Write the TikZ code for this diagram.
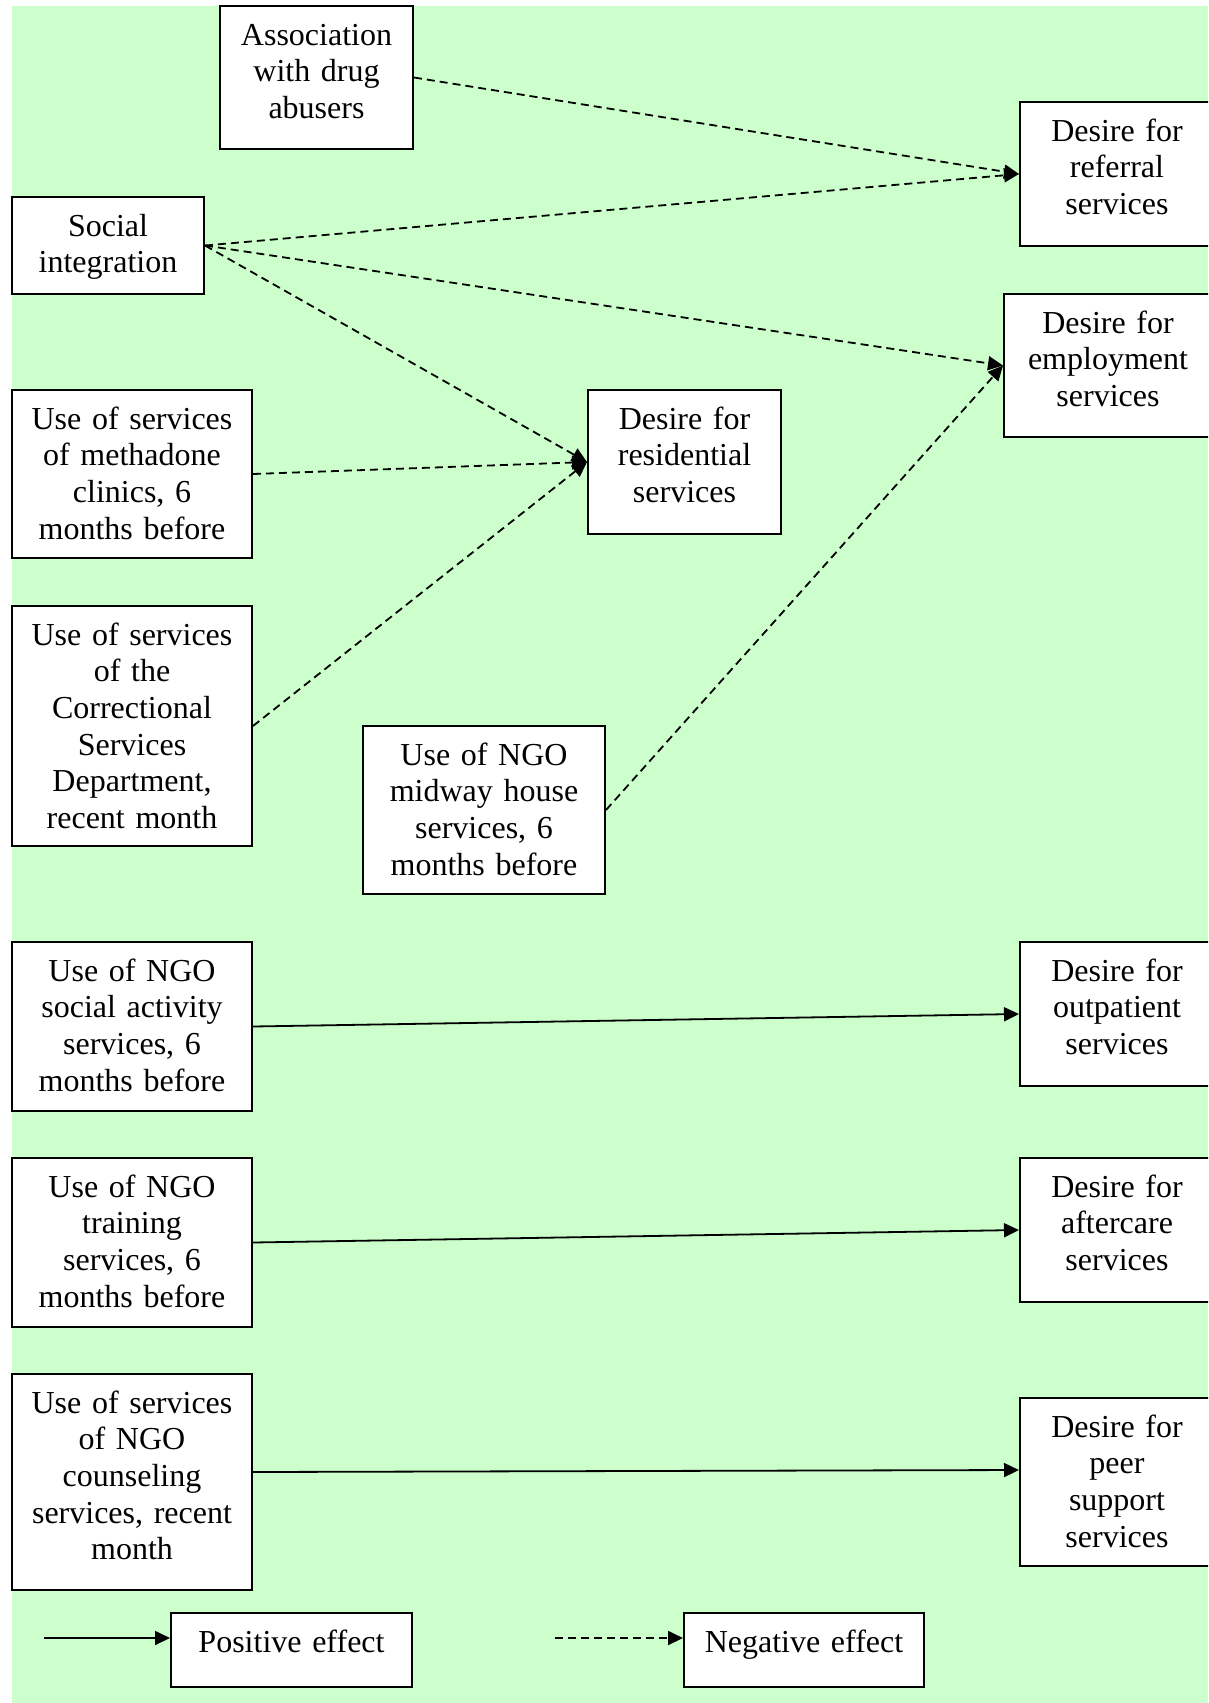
\documentclass[tikz,border=0pt]{standalone}
\usepackage{fontspec}
\setmainfont{Liberation Serif}
\usetikzlibrary{arrows.meta,calc}
\definecolor{bg}{RGB}{204,255,204}
\tikzset{
  box/.style={draw, line width=2pt, fill=white, inner sep=0pt, align=center,
    text height=39pt, font=\fontsize{32pt}{36.7pt}\selectfont},
  posarrow/.style={line width=1.8pt, -{Triangle[length=15pt,width=14pt]}},
  negarrow/.style={line width=1.8pt, dash pattern=on 8pt off 5pt, -{Triangle[length=15pt,width=14pt]}}
}
\begin{document}
\begin{tikzpicture}[x=1pt,y=-1pt]
\useasboundingbox (0,0) rectangle (1208,1703);
\clip (0,0) rectangle (1208,1703);
\fill[white] (0,0) rectangle (1208,1703);
\fill[bg] (12,6) rectangle (1208,1703);

% left / source boxes
\node[box, text width=193pt, text depth=104pt] (assoc) at (316.5,77.5) {Association\\with drug\\abusers};
\node[box, text width=192pt, text depth=58pt] (social) at (108,245.5) {Social\\integration};
\node[box, text width=240pt, text depth=129pt] (methadone) at (132,474) {Use of services\\of methadone\\clinics, 6\\months before};
\node[box, text width=240pt, text depth=201pt] (correctional) at (132,726) {Use of services\\of the\\Correctional\\Services\\Department,\\recent month};
\node[box, text width=242pt, text depth=129pt] (midway) at (484,810) {Use of NGO\\midway house\\services, 6\\months before};
\node[box, text width=240pt, text depth=130pt] (socact) at (132,1026.5) {Use of NGO\\social activity\\services, 6\\months before};
\node[box, text width=240pt, text depth=130pt] (training) at (132,1242.5) {Use of NGO\\training\\services, 6\\months before};
\node[box, text width=240pt, text depth=177pt] (counsel) at (132,1482) {Use of services\\of NGO\\counseling\\services, recent\\month};

% target boxes
\node[box, text width=194pt, text depth=105pt] (referral) at (1117,174) {Desire for\\referral\\services};
\node[box, text width=208pt, text depth=104pt] (employment) at (1108,365.5) {Desire for\\employment\\services};
\node[box, text width=193pt, text depth=105pt] (residential) at (684.5,462) {Desire for\\residential\\services};
\node[box, text width=194pt, text depth=105pt] (outpatient) at (1117,1014) {Desire for\\outpatient\\services};
\node[box, text width=194pt, text depth=105pt] (aftercare) at (1117,1230) {Desire for\\aftercare\\services};
\node[box, text width=194pt, text depth=129pt] (peer) at (1117,1482) {Desire for\\peer\\support\\services};

% negative effects
\draw[negarrow] (assoc.east) -- (referral.west);
\draw[negarrow] (social.east) -- (referral.west);
\draw[negarrow] (social.east) -- (employment.west);
\draw[negarrow] (social.east) -- (residential.west);
\draw[negarrow] (methadone.east) -- (residential.west);
\draw[negarrow] (correctional.east) -- (residential.west);
\draw[negarrow] (midway.east) -- (employment.west);

% positive effects
\draw[posarrow] (socact.east) -- (outpatient.west);
\draw[posarrow] (training.east) -- (aftercare.west);
\draw[posarrow] ([yshift=10pt]counsel.east) -- ([yshift=12pt]peer.west);

% legend
\node[box, text width=241pt, text depth=35pt] (poslegend) at (291.5,1650) {Positive effect};
\node[box, text width=240pt, text depth=35pt] (neglegend) at (804,1650) {Negative effect};
\coordinate (lp) at (44,1638);
\coordinate (ln) at (555,1638);
\draw[posarrow] (lp) -- (lp -| poslegend.west);
\draw[negarrow] (ln) -- (ln -| neglegend.west);
\end{tikzpicture}
\end{document}
